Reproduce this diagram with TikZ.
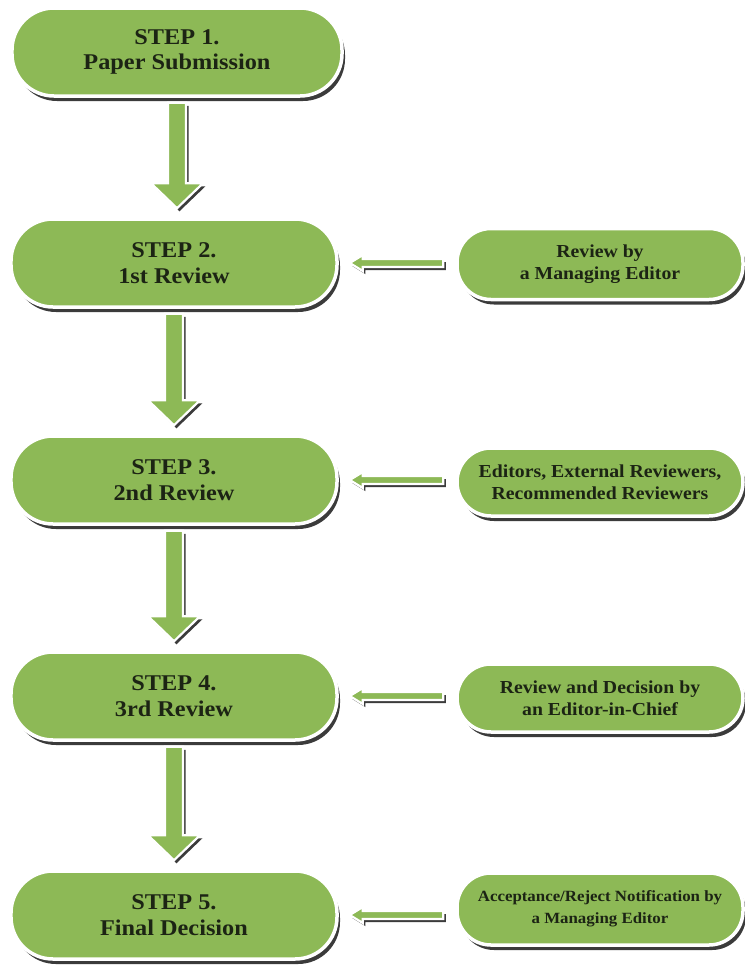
\documentclass[tikz,border=0pt]{standalone}
\usepackage{fontspec}
\setmainfont[FakeStretch=1.08]{Liberation Serif}
\usetikzlibrary{shadows,calc}
\definecolor{leaf}{HTML}{8DB956}
\definecolor{ink}{HTML}{1C2414}
\tikzset{
  x=1bp,y=-1bp,
  pill/.style={rectangle, rounded corners=42bp, fill=leaf, draw=white, line width=3.5bp,
    drop shadow={shadow xshift=3bp, shadow yshift=-5bp, fill=black!85, opacity=0.9},
    align=center, text=ink, font=\bfseries\fontsize{22.5bp}{25.5bp}\selectfont,
    minimum width=326bp, minimum height=88bp, inner sep=0pt},
  sidepill/.style={pill, rounded corners=34bp, minimum width=286bp, minimum height=71bp,
    font=\bfseries\fontsize{18.3bp}{22.5bp}\selectfont},
  blockarr/.style={fill=leaf, draw=white, line width=2.2bp, line join=miter,
    drop shadow={shadow xshift=2.5bp, shadow yshift=-3bp, fill=black!85, opacity=0.9}}
}
\newcommand\dnarr[2]{%
  \path[blockarr] ($(#1.south)+(-9,5)$) -- ($(#1.south |- #2.north)+(-9,-34)$)
    -- ($(#1.south |- #2.north)+(-26,-34)$) -- ($(#1.south |- #2.north)+(0,-9)$)
    -- ($(#1.south |- #2.north)+(26,-34)$) -- ($(#1.south |- #2.north)+(9,-34)$)
    -- ($(#1.south)+(9,5)$) -- cycle;}
\newcommand\lfarr[2]{%
  \path[blockarr] ($(#2.east -| #1.west)+(-12,-4)$) -- ($(#2.east)+(24,-4)$)
    -- ($(#2.east)+(24,-8)$) -- ($(#2.east)+(11,0)$) -- ($(#2.east)+(24,8)$)
    -- ($(#2.east)+(24,4)$) -- ($(#2.east -| #1.west)+(-12,4)$) -- cycle;}
\begin{document}
\begin{tikzpicture}
\useasboundingbox (0,0) rectangle (745,968);
\node[pill, minimum width=330bp] (s1) at (177,52) {STEP 1.\\Paper Submission};
\node[pill] (s2) at (174,263) {STEP 2.\\1st Review};
\node[pill] (s3) at (174,480) {STEP 3.\\2nd Review};
\node[pill] (s4) at (174,696) {STEP 4.\\3rd Review};
\node[pill] (s5) at (174,915) {STEP 5.\\Final Decision};
\node[sidepill] (r1) at (600,264) {Review by\\a Managing Editor};
\node[sidepill, minimum height=68bp] (r2) at (600,482) {Editors, External Reviewers,\\Recommended Reviewers};
\node[sidepill, minimum height=68bp] (r3) at (600,698) {Review and Decision by\\an Editor-in-Chief};
\node[sidepill, minimum height=72bp, font=\bfseries\fontsize{15.6bp}{22bp}\selectfont] (r4) at (600,909) {Acceptance/Reject Notification by\\a Managing Editor};
\dnarr{s1}{s2}
\dnarr{s2}{s3}
\dnarr{s3}{s4}
\dnarr{s4}{s5}
\lfarr{r1}{s2}
\lfarr{r2}{s3}
\lfarr{r3}{s4}
\lfarr{r4}{s5}
\end{tikzpicture}
\end{document}
